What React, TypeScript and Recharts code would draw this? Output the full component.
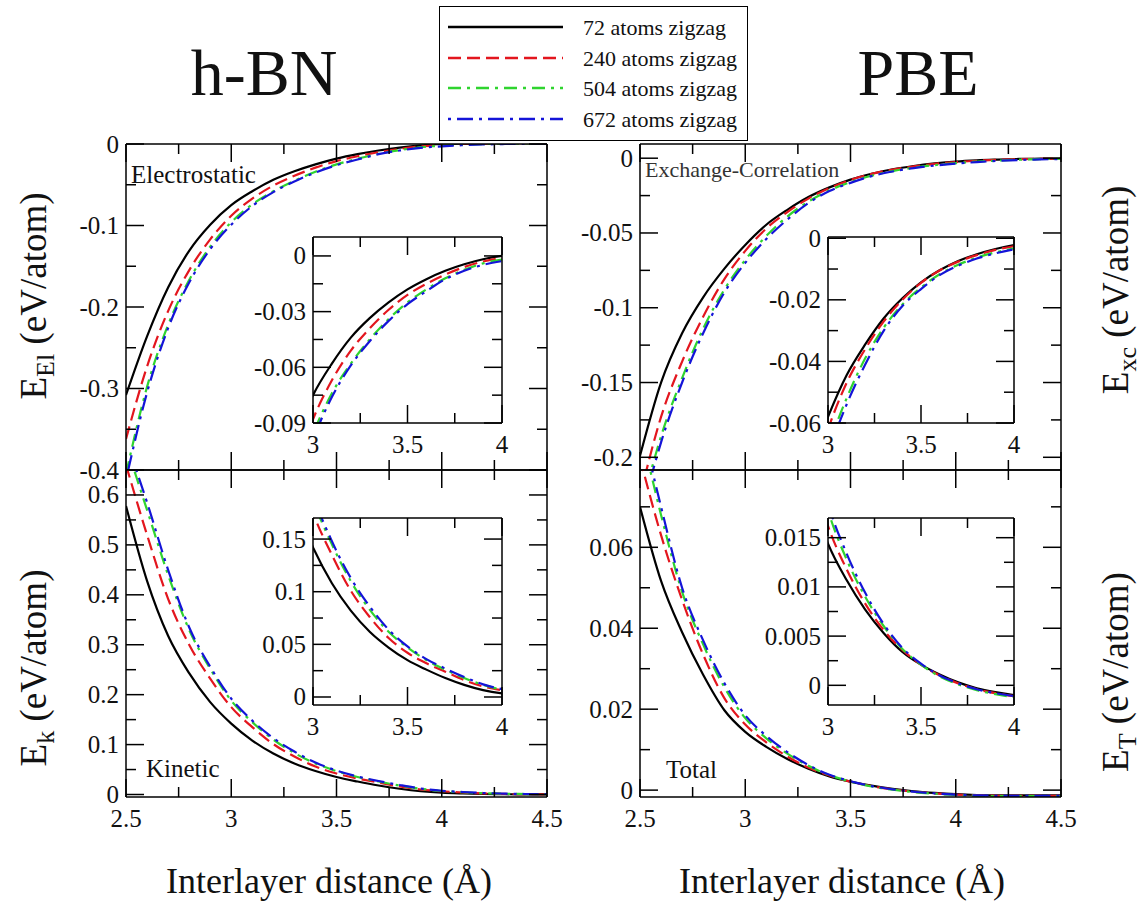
import React from "react";
import { LineChart, Line, XAxis, YAxis } from "recharts";

// interlayer distance (Å)
const distance = [2.5, 2.6, 2.7, 2.8, 2.9, 3.0, 3.1, 3.2, 3.3, 3.4, 3.5, 3.6, 3.7, 3.8, 3.9, 4.0, 4.1, 4.2, 4.3, 4.4, 4.5];

const seriesNames = ["72 atoms zigzag", "240 atoms zigzag", "504 atoms zigzag", "672 atoms zigzag"];
const seriesColors = ["#000000", "#e3161e", "#2fd42f", "#1414d8"];
const seriesDash = ["", "13 6", "13 6 3 6", "3 6 16 6"];

// electrostatic energy (eV/atom)
const el72 = [-0.308, -0.236, -0.176, -0.131, -0.099, -0.075, -0.058, -0.044, -0.0335, -0.025, -0.018, -0.0125, -0.008, -0.0045, -0.0018, 0, 0.0006, 0.001, 0.0012, 0.0012, 0.0012];
const el240 = [-0.362, -0.273, -0.205, -0.155, -0.117, -0.088, -0.067, -0.051, -0.039, -0.029, -0.021, -0.015, -0.01, -0.006, -0.003, -0.001, 0, 0.0005, 0.0008, 0.001, 0.001];
const el504 = [-0.405, -0.298, -0.222, -0.167, -0.126, -0.096, -0.074, -0.058, -0.045, -0.034, -0.025, -0.018, -0.012, -0.0075, -0.004, -0.002, -0.0008, 0, 0.0004, 0.0006, 0.0008];
const el672 = [-0.412, -0.305, -0.226, -0.17, -0.129, -0.099, -0.076, -0.059, -0.046, -0.035, -0.026, -0.019, -0.0125, -0.008, -0.0048, -0.0028, -0.0015, -0.0006, 0, 0.0003, 0.0005];

// exchange-correlation energy
const xc72 = [-0.199, -0.15, -0.117, -0.093, -0.074, -0.058, -0.0445, -0.0345, -0.026, -0.0195, -0.0143, -0.0104, -0.0074, -0.0052, -0.0035, -0.0022, -0.0014, -0.0009, -0.0005, -0.0003, -0.0002];
const xc240 = [-0.226, -0.173, -0.136, -0.106, -0.081, -0.062, -0.047, -0.036, -0.027, -0.02, -0.0145, -0.0105, -0.0076, -0.0055, -0.0038, -0.0026, -0.0017, -0.0011, -0.0007, -0.0004, -0.0003];
const xc504 = [-0.237, -0.186, -0.147, -0.114, -0.088, -0.068, -0.052, -0.039, -0.029, -0.0215, -0.016, -0.0117, -0.0086, -0.0063, -0.0046, -0.0033, -0.0023, -0.0016, -0.001, -0.0006, -0.0004];
const xc672 = [-0.242, -0.19, -0.15, -0.117, -0.09, -0.07, -0.054, -0.041, -0.03, -0.022, -0.0165, -0.012, -0.0089, -0.0066, -0.0049, -0.0036, -0.0026, -0.0018, -0.0012, -0.0008, -0.0005];

// kinetic energy
const kin72 = [0.578, 0.428, 0.318, 0.243, 0.185, 0.142, 0.108, 0.082, 0.062, 0.047, 0.035, 0.026, 0.018, 0.0115, 0.0065, 0.0035, 0.002, 0.001, 0.0005, 0.0003, 0.0002];
const kin240 = [0.66, 0.52, 0.392, 0.3, 0.232, 0.175, 0.135, 0.101, 0.076, 0.056, 0.042, 0.032, 0.024, 0.016, 0.01, 0.0065, 0.004, 0.0022, 0.0012, 0.0007, 0.0004];
const kin504 = [0.7, 0.57, 0.44, 0.33, 0.252, 0.188, 0.145, 0.11, 0.083, 0.062, 0.047, 0.035, 0.026, 0.018, 0.0115, 0.007, 0.0045, 0.0026, 0.0015, 0.0009, 0.0005];
const kin672 = [0.71, 0.585, 0.45, 0.335, 0.256, 0.192, 0.148, 0.113, 0.086, 0.064, 0.048, 0.036, 0.027, 0.019, 0.012, 0.0075, 0.005, 0.003, 0.0018, 0.001, 0.0006];

// total energy
const tot72 = [0.07, 0.0517, 0.039, 0.0285, 0.0198, 0.0144, 0.0107, 0.0077, 0.0053, 0.0034, 0.0021, 0.0011, 0.0003, -0.0003, -0.0007, -0.001, -0.0012, -0.0013, -0.0013, -0.0013, -0.0013];
const tot240 = [0.082, 0.063, 0.047, 0.0335, 0.0228, 0.0162, 0.0118, 0.0083, 0.0056, 0.0036, 0.0021, 0.001, 0.0002, -0.0004, -0.0008, -0.0011, -0.0013, -0.0014, -0.0014, -0.0014, -0.0014];
const tot504 = [0.09, 0.068, 0.049, 0.036, 0.0255, 0.0178, 0.0128, 0.009, 0.006, 0.0037, 0.0021, 0.0009, 0.0001, -0.0005, -0.0009, -0.0012, -0.0014, -0.0015, -0.0015, -0.0015, -0.0015];
const tot672 = [0.092, 0.07, 0.05, 0.037, 0.0265, 0.0185, 0.0134, 0.0094, 0.0062, 0.0038, 0.0022, 0.001, 0.0002, -0.0004, -0.0008, -0.0011, -0.0013, -0.0014, -0.0014, -0.0014, -0.0014];

// tick positions
const mainXTicks = [2.5, 2.75, 3, 3.25, 3.5, 3.75, 4, 4.25, 4.5];
const mainXMajor = [2.5, 3, 3.5, 4, 4.5];
const insetXTicks = [3, 3.25, 3.5, 3.75, 4];
const insetXMajor = [3, 3.5, 4];

const elTicks = [-0.4, -0.35, -0.3, -0.25, -0.2, -0.15, -0.1, -0.05, 0];
const elMajor = [-0.4, -0.3, -0.2, -0.1, 0];
const elInsetTicks = [-0.09, -0.075, -0.06, -0.045, -0.03, -0.015, 0];
const elInsetMajor = [-0.09, -0.06, -0.03, 0];

const xcTicks = [-0.2, -0.175, -0.15, -0.125, -0.1, -0.075, -0.05, -0.025, 0];
const xcMajor = [-0.2, -0.15, -0.1, -0.05, 0];
const xcInsetTicks = [-0.06, -0.05, -0.04, -0.03, -0.02, -0.01, 0];
const xcInsetMajor = [-0.06, -0.04, -0.02, 0];

const kinTicks = [0, 0.05, 0.1, 0.15, 0.2, 0.25, 0.3, 0.35, 0.4, 0.45, 0.5, 0.55, 0.6];
const kinMajor = [0, 0.1, 0.2, 0.3, 0.4, 0.5, 0.6];
const kinInsetTicks = [0, 0.025, 0.05, 0.075, 0.1, 0.125, 0.15];
const kinInsetMajor = [0, 0.05, 0.1, 0.15];

const totTicks = [0, 0.01, 0.02, 0.03, 0.04, 0.05, 0.06, 0.07];
const totMajor = [0, 0.02, 0.04, 0.06];
const totInsetTicks = [0, 0.0025, 0.005, 0.0075, 0.01, 0.0125, 0.015];
const totInsetMajor = [0, 0.005, 0.01, 0.015];

const FONT = "Liberation Serif, Times New Roman, serif";
const MAJOR_TICK = 18;
const MINOR_TICK = 10;

type Box = { x: number; y: number; w: number; h: number };
type Side = "left" | "right" | "top" | "bottom";

const buildRows = (set: number[][]) =>
  distance.map((x, i) => ({ x, s0: set[0][i], s1: set[1][i], s2: set[2][i], s3: set[3][i] }));

const isMajor = (v: number, majors: number[]) => majors.some((m) => Math.abs(m - v) < 1e-9);

function tickRenderer(side: Side, majors: number[], showLabel: boolean) {
  return (props: any) => {
    const { x, y, payload } = props;
    const v = payload.value as number;
    const major = isMajor(v, majors);
    const len = major ? MAJOR_TICK : MINOR_TICK;
    let x2 = x;
    let y2 = y;
    if (side === "left") x2 = x + len;
    else if (side === "right") x2 = x - len;
    else if (side === "bottom") y2 = y - len;
    else y2 = y + len;
    let label = null;
    if (showLabel && major) {
      label =
        side === "left" ? (
          <text x={x - 7} y={y} textAnchor="end" dominantBaseline="central" fontFamily={FONT} fontSize={25} fill="#111">
            {String(v)}
          </text>
        ) : (
          <text x={x} y={y + 21} textAnchor="middle" dominantBaseline="central" fontFamily={FONT} fontSize={25} fill="#111">
            {String(v)}
          </text>
        );
    }
    return (
      <g>
        <line x1={x} y1={y} x2={x2} y2={y2} stroke="#000" strokeWidth={1.5} />
        {label}
      </g>
    );
  };
}

type PanelProps = {
  box: Box;
  set: number[][];
  xDomain: [number, number];
  xTicks: number[];
  xMajor: number[];
  yDomain: [number, number];
  yTicks: number[];
  yMajor: number[];
  showX: boolean;
  inset?: boolean;
};

function Panel({ box, set, xDomain, xTicks, xMajor, yDomain, yTicks, yMajor, showX, inset }: PanelProps) {
  const padL = 90;
  const padR = 26;
  const padT = 18;
  const padB = showX ? 42 : 18;
  const rows = buildRows(set);
  const axisLine = { stroke: "#000", strokeWidth: 1.5 };
  return (
    <>
      {inset && (
        <div style={{ position: "absolute", left: box.x, top: box.y, width: box.w, height: box.h, background: "#fff" }} />
      )}
      <div style={{ position: "absolute", left: box.x - padL, top: box.y - padT }}>
        <LineChart
          width={padL + box.w + padR}
          height={padT + box.h + padB}
          data={rows}
          margin={{ top: 0, right: 0, bottom: 0, left: 0 }}
        >
          <XAxis
            xAxisId="b"
            orientation="bottom"
            type="number"
            dataKey="x"
            domain={xDomain}
            ticks={xTicks}
            interval={0}
            allowDataOverflow
            height={padB}
            tickSize={0}
            tickMargin={0}
            tickLine={false}
            axisLine={axisLine}
            tick={tickRenderer("bottom", xMajor, showX)}
          />
          <XAxis
            xAxisId="t"
            orientation="top"
            type="number"
            dataKey="x"
            domain={xDomain}
            ticks={xTicks}
            interval={0}
            allowDataOverflow
            height={padT}
            tickSize={0}
            tickMargin={0}
            tickLine={false}
            axisLine={axisLine}
            tick={tickRenderer("top", xMajor, false)}
          />
          <YAxis
            yAxisId="l"
            orientation="left"
            type="number"
            domain={yDomain}
            ticks={yTicks}
            interval={0}
            allowDataOverflow
            width={padL}
            tickSize={0}
            tickMargin={0}
            tickLine={false}
            axisLine={axisLine}
            tick={tickRenderer("left", yMajor, true)}
          />
          <YAxis
            yAxisId="r"
            orientation="right"
            type="number"
            domain={yDomain}
            ticks={yTicks}
            interval={0}
            allowDataOverflow
            width={padR}
            tickSize={0}
            tickMargin={0}
            tickLine={false}
            axisLine={axisLine}
            tick={tickRenderer("right", yMajor, false)}
          />
          {seriesNames.map((name, i) => (
            <Line
              key={name}
              name={name}
              xAxisId="b"
              yAxisId="l"
              type="monotone"
              dataKey={`s${i}`}
              stroke={seriesColors[i]}
              strokeWidth={2.2}
              strokeDasharray={seriesDash[i] || undefined}
              dot={false}
              isAnimationActive={false}
            />
          ))}
        </LineChart>
      </div>
    </>
  );
}

function SeriesLegend() {
  const rowsY = [20, 51, 81, 112];
  return (
    <div
      style={{
        position: "absolute",
        left: 439,
        top: 6,
        width: 309,
        height: 135,
        boxSizing: "border-box",
        border: "1.5px solid #000",
        background: "#fff",
      }}
    >
      <svg width={306} height={132} style={{ position: "absolute", left: 0, top: 0 }}>
        {seriesNames.map((name, i) => (
          <g key={name}>
            <line
              x1={8}
              x2={123}
              y1={rowsY[i]}
              y2={rowsY[i]}
              stroke={seriesColors[i]}
              strokeWidth={2.5}
              strokeDasharray={seriesDash[i] || undefined}
            />
            <text x={143} y={rowsY[i]} dominantBaseline="central" fontFamily={FONT} fontSize={22} fill="#111">
              {name}
            </text>
          </g>
        ))}
      </svg>
    </div>
  );
}

function AxisTitle({ x, y, sub }: { x: number; y: number; sub: string }) {
  return (
    <text transform={`translate(${x}, ${y}) rotate(-90)`} textAnchor="middle" fontFamily={FONT} fontSize={37} fill="#111">
      E
      <tspan fontSize={26} dy={8}>
        {sub}
      </tspan>
      <tspan dy={-8}> (eV/atom)</tspan>
    </text>
  );
}

export default function App() {
  const tl: Box = { x: 126, y: 144, w: 421, h: 326 };
  const bl: Box = { x: 126, y: 470, w: 421, h: 327 };
  const tr: Box = { x: 640, y: 144, w: 421, h: 326 };
  const br: Box = { x: 640, y: 470, w: 421, h: 327 };
  const mainX: [number, number] = [2.5, 4.5];
  const insetX: [number, number] = [3, 4];

  return (
    <div style={{ position: "absolute", left: 0, top: 0, width: 1145, height: 906, background: "#fff", overflow: "hidden" }}>
      <Panel box={tl} set={[el72, el240, el504, el672]} xDomain={mainX} xTicks={mainXTicks} xMajor={mainXMajor} yDomain={[-0.4, 0]} yTicks={elTicks} yMajor={elMajor} showX={false} />
      <Panel box={bl} set={[kin72, kin240, kin504, kin672]} xDomain={mainX} xTicks={mainXTicks} xMajor={mainXMajor} yDomain={[-0.005, 0.65]} yTicks={kinTicks} yMajor={kinMajor} showX />
      <Panel box={tr} set={[xc72, xc240, xc504, xc672]} xDomain={mainX} xTicks={mainXTicks} xMajor={mainXMajor} yDomain={[-0.2085, 0.0095]} yTicks={xcTicks} yMajor={xcMajor} showX={false} />
      <Panel box={br} set={[tot72, tot240, tot504, tot672]} xDomain={mainX} xTicks={mainXTicks} xMajor={mainXMajor} yDomain={[-0.0017, 0.0791]} yTicks={totTicks} yMajor={totMajor} showX />

      <Panel inset box={{ x: 313, y: 237, w: 189, h: 186 }} set={[el72, el240, el504, el672]} xDomain={insetX} xTicks={insetXTicks} xMajor={insetXMajor} yDomain={[-0.09, 0.0102]} yTicks={elInsetTicks} yMajor={elInsetMajor} showX />
      <Panel inset box={{ x: 828, y: 237, w: 186, h: 186 }} set={[xc72, xc240, xc504, xc672]} xDomain={insetX} xTicks={insetXTicks} xMajor={insetXMajor} yDomain={[-0.06, 0.0004]} yTicks={xcInsetTicks} yMajor={xcInsetMajor} showX />
      <Panel inset box={{ x: 313, y: 518, w: 189, h: 187 }} set={[kin72, kin240, kin504, kin672]} xDomain={insetX} xTicks={insetXTicks} xMajor={insetXMajor} yDomain={[-0.0076, 0.17]} yTicks={kinInsetTicks} yMajor={kinInsetMajor} showX />
      <Panel inset box={{ x: 828, y: 518, w: 186, h: 187 }} set={[tot72, tot240, tot504, tot672]} xDomain={insetX} xTicks={insetXTicks} xMajor={insetXMajor} yDomain={[-0.002, 0.017]} yTicks={totInsetTicks} yMajor={totInsetMajor} showX />

      <svg width={1145} height={906} style={{ position: "absolute", left: 0, top: 0, pointerEvents: "none" }}>
        <text x={264} y={95} textAnchor="middle" fontFamily={FONT} fontSize={66} fill="#111">h-BN</text>
        <text x={918} y={95} textAnchor="middle" fontFamily={FONT} fontSize={66} fill="#111">PBE</text>

        <text x={131} y={183} fontFamily={FONT} fontSize={25} fill="#111">Electrostatic</text>
        <text x={645} y={177} fontFamily={FONT} fontSize={22} fill="#333">Exchange-Correlation</text>
        <text x={146} y={777} fontFamily={FONT} fontSize={25} fill="#111">Kinetic</text>
        <text x={666} y={778} fontFamily={FONT} fontSize={25} fill="#111">Total</text>

        <AxisTitle x={46} y={296} sub="El" />
        <AxisTitle x={46} y={668} sub="k" />
        <AxisTitle x={1128} y={290} sub="xc" />
        <AxisTitle x={1128} y={672} sub="T" />

        <text x={329} y={893} textAnchor="middle" fontFamily={FONT} fontSize={36} fill="#111">Interlayer distance (Å)</text>
        <text x={842} y={893} textAnchor="middle" fontFamily={FONT} fontSize={36} fill="#111">Interlayer distance (Å)</text>
      </svg>

      <SeriesLegend />
    </div>
  );
}
